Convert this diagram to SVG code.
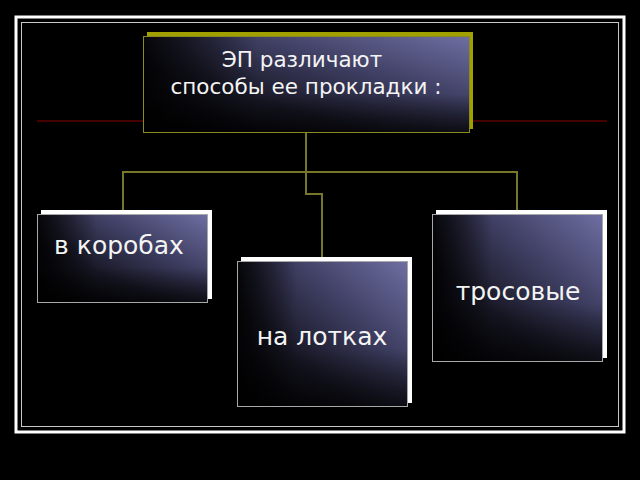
<svg xmlns="http://www.w3.org/2000/svg" width="640" height="480" viewBox="0 0 640 480">
<defs>
<linearGradient id="g" x1="1" y1="0" x2="0" y2="1">
<stop offset="0" stop-color="#6e6ea2"/>
<stop offset="0.35" stop-color="#3e3e62"/>
<stop offset="0.65" stop-color="#181826"/>
<stop offset="1" stop-color="#020204"/>
</linearGradient>
<linearGradient id="h" x1="0" y1="0" x2="1" y2="0">
<stop offset="0" stop-color="#000" stop-opacity="0.85"/>
<stop offset="0.35" stop-color="#000" stop-opacity="0"/>
</linearGradient>
<linearGradient id="v" x1="0" y1="0" x2="0" y2="1">
<stop offset="0.6" stop-color="#000" stop-opacity="0"/>
<stop offset="1" stop-color="#000" stop-opacity="0.7"/>
</linearGradient>
<style>
.box{fill:url(#g);stroke:#a8a8a8;stroke-width:1}
.ov1{fill:url(#h)}
.ov2{fill:url(#v)}
.shw{fill:#ffffff}
.shy{fill:#a0a000}
.lbl{fill:#f4f4f4;font-family:"DejaVu Sans",sans-serif}
.con{fill:none;stroke:#77772a;stroke-width:2}
</style>
</defs>
<rect x="0" y="0" width="640" height="480" fill="#000"/>
<rect x="16" y="17" width="608" height="415" fill="none" stroke="#ffffff" stroke-width="3"/>
<rect x="21.5" y="22.5" width="597" height="404" fill="none" stroke="#c8c8c8" stroke-width="1"/>
<line x1="37" y1="121" x2="607" y2="121" stroke="#8a0000" stroke-width="1"/>
<g id="connectors">
<path class="con" d="M306,133 V172 M123,212 V172 H517 V212 M306,172 V194 H322 V258"/>
</g>
<g id="top">
<rect class="shy" x="147" y="32" width="326" height="97"/>
<rect x="143.5" y="36.5" width="326" height="96" fill="url(#g)"/>
<rect class="ov1" x="143.5" y="36.5" width="326" height="96"/>
<rect class="ov2" x="143.5" y="36.5" width="326" height="96"/>
<rect x="143.5" y="36.5" width="326" height="96" fill="none" stroke="#8a8a20" stroke-width="1"/>
<text class="lbl" font-size="21.5" text-anchor="middle"><tspan x="302" y="67">ЭП различают</tspan><tspan x="306" y="94">способы ее прокладки :</tspan></text>
</g>
<g id="korob">
<rect class="shw" x="41" y="210" width="171" height="89"/>
<rect class="box" x="37.5" y="214.5" width="170" height="88"/>
<rect class="ov1" x="37.5" y="214.5" width="170" height="88"/>
<rect class="ov2" x="37.5" y="214.5" width="170" height="88"/>
<rect x="37.5" y="214.5" width="170" height="88" fill="none" stroke="#a8a8a8"/>
<text class="lbl" font-size="25" x="119" y="254" text-anchor="middle">в коробах</text>
</g>
<g id="lotki">
<rect class="shw" x="241" y="257" width="171" height="146"/>
<rect class="box" x="237.5" y="261.5" width="170" height="145"/>
<rect class="ov1" x="237.5" y="261.5" width="170" height="145"/>
<rect class="ov2" x="237.5" y="261.5" width="170" height="145"/>
<rect x="237.5" y="261.5" width="170" height="145" fill="none" stroke="#a8a8a8"/>
<text class="lbl" font-size="25" x="322" y="345" text-anchor="middle">на лотках</text>
</g>
<g id="tros">
<rect class="shw" x="436" y="210" width="171" height="148"/>
<rect class="box" x="432.5" y="214.5" width="170" height="147"/>
<rect class="ov1" x="432.5" y="214.5" width="170" height="147"/>
<rect class="ov2" x="432.5" y="214.5" width="170" height="147"/>
<rect x="432.5" y="214.5" width="170" height="147" fill="none" stroke="#a8a8a8"/>
<text class="lbl" font-size="25" x="518" y="300" text-anchor="middle">тросовые</text>
</g>
</svg>
